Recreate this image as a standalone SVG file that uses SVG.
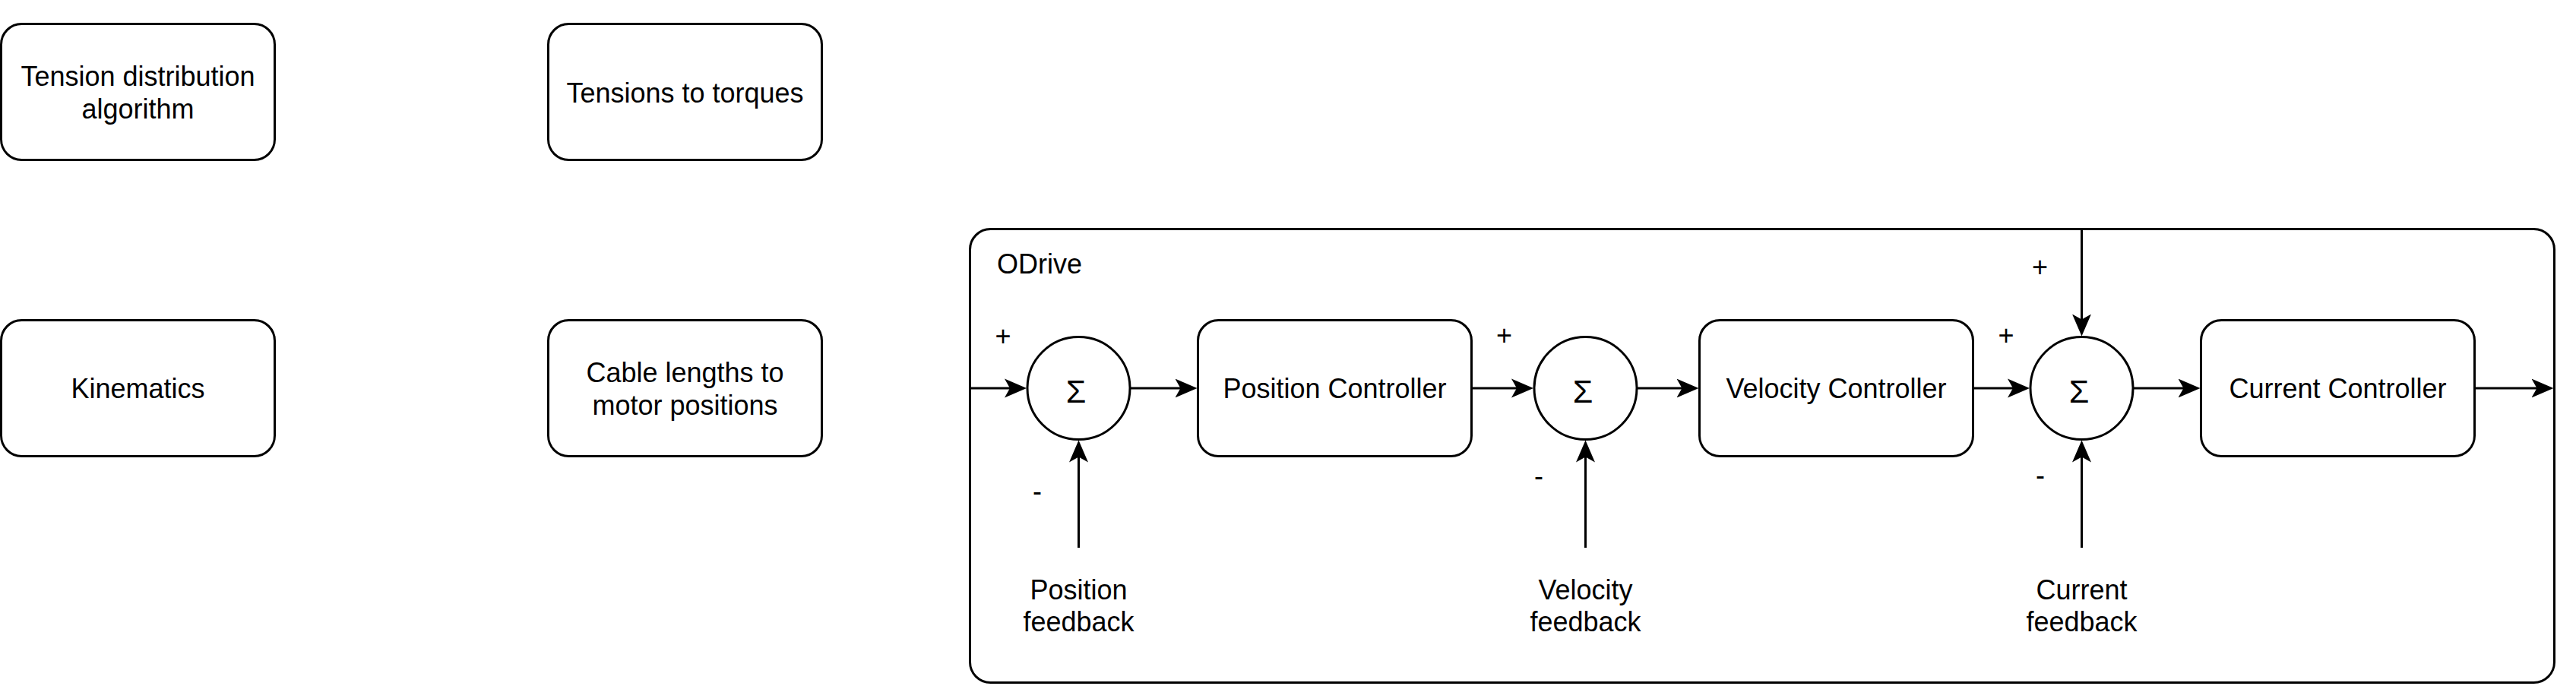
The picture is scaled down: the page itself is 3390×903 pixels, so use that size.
<svg xmlns="http://www.w3.org/2000/svg" width="3390" height="903" viewBox="0 0 3390 903">
<style>
.box{fill:#fff;stroke:#000;stroke-width:3}
.sum{fill:#fff;stroke:#000;stroke-width:3}
.t{font-family:"Liberation Sans",Helvetica,Arial,sans-serif;font-size:36px;fill:#000;text-anchor:middle}
.tl{font-family:"Liberation Sans",Helvetica,Arial,sans-serif;font-size:36px;fill:#000}
.sig{font-family:"Liberation Sans",Helvetica,Arial,sans-serif;font-size:43px;fill:#000;text-anchor:middle}
.c{fill:none;stroke:#000;stroke-width:3}
</style>
<defs>
<marker id="arr" viewBox="0 0 30 26" refX="10" refY="13" markerWidth="30" markerHeight="26" markerUnits="userSpaceOnUse" orient="auto">
<path d="M0,0.5 L29,13 L0,25.5 L7,13 z" fill="#000"/>
</marker>
</defs>
<rect width="3390" height="903" fill="#fff"/>
<g id="odrive">
<rect class="box" x="1276.5" y="301.5" width="2085" height="597" rx="27"/>
<text class="tl" x="1312" y="360">ODrive</text>
</g>
<g id="tension-distribution">
<rect class="box" x="1.5" y="31.5" width="360" height="179" rx="27"/>
<text class="t" x="181.5" y="113">Tension distribution</text>
<text class="t" x="181.5" y="156">algorithm</text>
</g>
<g id="tensions-torques">
<rect class="box" x="721.5" y="31.5" width="360" height="179" rx="27"/>
<text class="t" x="901.5" y="135">Tensions to torques</text>
</g>
<g id="kinematics">
<rect class="box" x="1.5" y="421.5" width="360" height="179" rx="27"/>
<text class="t" x="181.5" y="524">Kinematics</text>
</g>
<g id="cable-lengths">
<rect class="box" x="721.5" y="421.5" width="360" height="179" rx="27"/>
<text class="t" x="901.5" y="503">Cable lengths to</text>
<text class="t" x="901.5" y="546">motor positions</text>
</g>
<g id="sum1">
<circle class="sum" cx="1419.5" cy="511" r="67.5"/>
<text class="sig" x="1416" y="530">Σ</text>
</g>
<g id="position-controller">
<rect class="box" x="1576.5" y="421.5" width="360" height="179" rx="27"/>
<text class="t" x="1756.5" y="524">Position Controller</text>
</g>
<g id="sum2">
<circle class="sum" cx="2086.5" cy="511" r="67.5"/>
<text class="sig" x="2083" y="530">Σ</text>
</g>
<g id="velocity-controller">
<rect class="box" x="2236.5" y="421.5" width="360" height="179" rx="27"/>
<text class="t" x="2416.5" y="524">Velocity Controller</text>
</g>
<g id="sum3">
<circle class="sum" cx="2739.5" cy="511" r="67.5"/>
<text class="sig" x="2736" y="530">Σ</text>
</g>
<g id="current-controller">
<rect class="box" x="2896.5" y="421.5" width="360" height="179" rx="27"/>
<text class="t" x="3076.5" y="524">Current Controller</text>
</g>
<g id="position-feedback">
<text class="t" x="1419.5" y="789">Position</text>
<text class="t" x="1419.5" y="831">feedback</text>
</g>
<g id="velocity-feedback">
<text class="t" x="2086.5" y="789">Velocity</text>
<text class="t" x="2086.5" y="831">feedback</text>
</g>
<g id="current-feedback">
<text class="t" x="2739.5" y="789">Current</text>
<text class="t" x="2739.5" y="831">feedback</text>
</g>
<g id="signs">
<text class="t" x="1320" y="455">+</text>
<text class="t" x="1365" y="659">-</text>
<text class="t" x="1979.5" y="454">+</text>
<text class="t" x="2025" y="639">-</text>
<text class="t" x="2640" y="454">+</text>
<text class="t" x="2684.5" y="364">+</text>
<text class="t" x="2685" y="638">-</text>
</g>
<g id="connectors">
<path class="c" d="M1276.5,511 H1332" marker-end="url(#arr)"/>
<path class="c" d="M1487,511 H1556.5" marker-end="url(#arr)"/>
<path class="c" d="M1936.5,511 H1999" marker-end="url(#arr)"/>
<path class="c" d="M2154,511 H2216.5" marker-end="url(#arr)"/>
<path class="c" d="M2596.5,511 H2652" marker-end="url(#arr)"/>
<path class="c" d="M2807,511 H2876.5" marker-end="url(#arr)"/>
<path class="c" d="M3256.5,511 H3341.5" marker-end="url(#arr)"/>
<path class="c" d="M2739.5,301.5 V423.5" marker-end="url(#arr)"/>
<path class="c" d="M1419.5,721 V598.5" marker-end="url(#arr)"/>
<path class="c" d="M2086.5,721 V598.5" marker-end="url(#arr)"/>
<path class="c" d="M2739.5,721 V598.5" marker-end="url(#arr)"/>
</g>
</svg>
